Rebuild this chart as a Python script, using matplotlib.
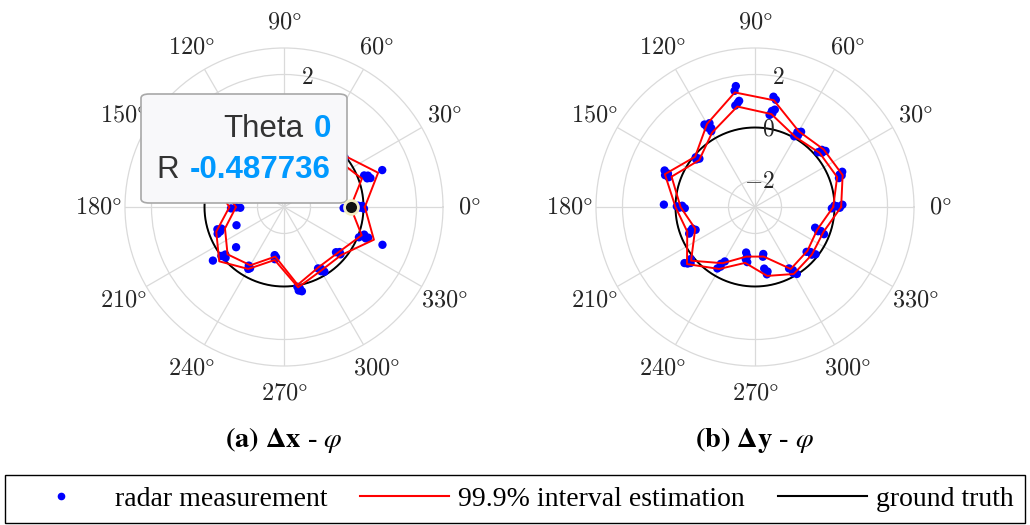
import numpy as np
import matplotlib
matplotlib.use('Agg')
import matplotlib.pyplot as plt
from matplotlib.lines import Line2D
from matplotlib.patches import FancyBboxPatch

plt.rcParams['mathtext.fontset'] = 'cm'

# angles of the measurement groups (deg)
angles = [0, 20, 40, 60, 80, 100, 120, 140, 160, 180, 200, 220, 240, 260, 280, 300, 320, 340]

# (a) delta x - phi : 99.9% interval bounds
dx_lo = [-0.487736, 0.13, -0.3, -0.4, 0.1, -0.3, 0.0, -0.5, -0.4, -1.19, -0.63, -0.22, -0.46, -1.1, -0.02, -0.38, -0.33, 0.12]
dx_hi = [0.05, 0.78, 0.0, -0.1, 0.5, 0.0, 0.35, -0.2, -0.1, -0.94, -0.28, 0.19, -0.3, -0.97, 0.08, -0.22, -0.18, 0.61]
# radar measurements
dx_pt_ang = [1, -0.5, 0.8, -1.2, -1,
             21.5, 19.0, 20.5, 18.5, 20.6,
             40, 41, 39,
             60, 61, 59,
             80, 81, 79,
             100, 101, 99,
             120, 121, 119,
             140, 141, 139,
             160, 161, 159,
             181, 180.5, 181.5,
             199, 201, 198.5, 202, 201,
             219, 221, 218, 217, 220,
             239, 241, 240,
             259, 261, 260,
             279.5, 281, 280, 282,
             299, 301, 300, 302,
             319, 321, 320,
             338, 341, 339, 340, 339]
dx_pt_r = [-0.2, -0.12, -0.05, 0.02, -0.75,
           0.25, 0.32, 0.38, 0.44, 0.96,
           -0.2, -0.1, -0.05,
           -0.35, -0.25, -0.2,
           0.2, 0.3, 0.45,
           -0.1, 0.0, 0.2,
           0.05, 0.15, 0.3,
           -0.45, -0.3, -0.25,
           -0.35, -0.2, -0.15,
           -1.35, -1.2, -1.0,
           -0.5, -0.42, -0.35, -0.3, -1.08,
           -0.15, -0.08, 0.0, 0.36, -0.64,
           -0.42, -0.36, -0.3,
           -1.15, -1.08, -1.0,
           0.05, 0.12, 0.2, 0.25,
           -0.35, -0.28, -0.2, -0.12,
           -0.4, -0.3, -0.22,
           0.05, 0.2, 0.3, 0.38, 0.98]

# (b) delta y - phi
dy_lo = [-0.05, 0.3, 0.18, 0.05, 0.56, 0.85, 0.24, -0.25, 0.35, -0.19, -0.6, 0.15, -0.55, -1.1, -1.1, -0.3, -0.42, -0.5]
dy_hi = [0.25, 0.52, 0.38, 0.3, 1.09, 1.39, 0.62, -0.05, 0.62, 0.0, -0.28, 0.35, -0.3, -0.86, -0.36, -0.08, -0.2, -0.25]
dy_pt_ang = [-1, 1, 0.5, -0.5, 1.5,
             19, 21, 20, 22,
             41, 39, 40.5, 38.5,
             61, 59, 60.5, 58.5,
             79, 80.5, 81, 79.5, 80, 78.5,
             100, 99, 101, 99.5, 98.5,
             120, 119, 121, 118.5, 121.5,
             139, 141, 140,
             161, 159, 160.5, 158,
             181, 179, 180.5, 179.5, 178.5,
             201, 199, 200.5, 202,
             219, 221, 220, 218.5,
             241, 239, 240, 238.5,
             259, 261, 260, 262,
             280, 279, 278.5, 281, 280,
             299, 301, 300, 302,
             319, 321, 320, 322,
             341, 339, 340, 338.5]
dy_pt_r = [-0.1, 0.0, 0.1, 0.2, 0.3,
           0.35, 0.42, 0.48, 0.55,
           0.15, 0.25, 0.32, 0.4,
           0.05, 0.15, 0.25, 0.33,
           1.12, 1.22, 0.52, 0.6, 0.68, 0.75,
           1.45, 1.62, 0.9, 0.98, 1.05,
           0.3, 0.4, 0.5, 0.6, 0.65,
           -0.22, -0.15, -0.08,
           0.45, 0.52, 0.6, 0.68,
           -0.35, -0.25, -0.15, -0.05, 0.44,
           -0.6, -0.5, -0.4, -0.32,
           0.12, 0.22, 0.32, 0.4,
           -0.65, -0.5, -0.4, -0.28,
           -1.25, -1.12, -1.0, -0.9,
           -1.2, -1.1, -0.65, -0.52, -0.42,
           -0.35, -0.22, -0.12, -0.02,
           -0.42, -0.3, -0.2, -0.1,
           -0.6, -0.45, -0.35, -0.2]

ground_truth = 0.0
tip_theta = 0
tip_r = -0.487736

r_ticks = [-2, 0, 2]
r_tick_labels = [r'$-2$', r'$0$', r'$2$']
theta_ticks = list(range(0, 360, 30))

fig = plt.figure(figsize=(10.3, 5.25), dpi=100)
W, H = 1030, 525
ax1 = fig.add_axes([125 / W, (H - 207 - 159) / H, 318 / W, 318 / H], projection='polar')
ax2 = fig.add_axes([596 / W, (H - 207 - 159) / H, 318 / W, 318 / H], projection='polar')


def closed(vals):
    return np.deg2rad(angles + [angles[0]]), vals + [vals[0]]


def draw(ax, lo, hi, pa, pr):
    t = np.linspace(0, 2 * np.pi, 361)
    ax.plot(t, np.full_like(t, ground_truth), color='black', lw=1.4, zorder=2)
    ax.scatter(np.deg2rad(pa), pr, s=36, color='#0000ff', edgecolors='none', zorder=3)
    th, v = closed(lo)
    ax.plot(th, v, color='#ff0000', lw=1.4, zorder=4)
    th, v = closed(hi)
    ax.plot(th, v, color='#ff0000', lw=1.4, zorder=4)
    ax.set_ylim(-3, 3)
    ax.set_yticks(r_ticks)
    ax.set_yticklabels([])
    for v, s in zip(r_ticks, r_tick_labels):
        ax.text(np.deg2rad(80), v, s, ha='center', va='center', fontsize=17,
                color='#262626', zorder=5)
    ax.set_thetagrids(theta_ticks, labels=[rf'${a}\degree$' for a in theta_ticks])
    ax.grid(color='#dadada', lw=0.9)
    ax.spines['polar'].set_color('#dadada')
    ax.spines['polar'].set_linewidth(0.9)
    ax.tick_params(axis='x', pad=8.5, labelsize=17.5, colors='#262626')


draw(ax1, dx_lo, dx_hi, dx_pt_ang, dx_pt_r)
draw(ax2, dy_lo, dy_hi, dy_pt_ang, dy_pt_r)

# data tip on panel (a)
box = FancyBboxPatch((141 / W, 1 - 203 / H), 206 / W, 109 / H,
                     boxstyle='round,pad=0,rounding_size=0.008',
                     transform=fig.transFigure, facecolor='#f8f8fa',
                     edgecolor='#a8a8a8', lw=1.2, zorder=10)
fig.add_artist(box)
fig.text(303 / W, 1 - 129 / H, 'Theta', ha='right', va='center', fontsize=22.5,
         family='Liberation Sans', color='#333333', zorder=11)
fig.text(331 / W, 1 - 129 / H, f'{tip_theta}', ha='right', va='center', fontsize=22.5,
         family='Liberation Sans', fontweight='bold', color='#0099ff', zorder=11)
fig.text(179 / W, 1 - 170 / H, 'R', ha='right', va='center', fontsize=22.5,
         family='Liberation Sans', color='#333333', zorder=11)
fig.text(331 / W, 1 - 170 / H, f'{tip_r}', ha='right', va='center', fontsize=22.5,
         family='Liberation Sans', fontweight='bold', color='#0099ff', zorder=11)
mk = Line2D([np.deg2rad(tip_theta)], [tip_r], transform=ax1.transData, marker='o',
            markersize=10, markerfacecolor='#111111', markeredgecolor='#f3eec4',
            markeredgewidth=2, linestyle='none', zorder=12)
fig.add_artist(mk)

# captions
fig.text(284 / W, 1 - 440 / H, r'$\mathbf{(a)}\ \mathbf{\Delta x}$ - $\varphi$', ha='center', va='center',
         fontsize=20.5, family='Liberation Serif', math_fontfamily='stix')
fig.text(755 / W, 1 - 440 / H, r'$\mathbf{(b)}\ \mathbf{\Delta y}$ - $\varphi$', ha='center', va='center',
         fontsize=20.5, family='Liberation Serif', math_fontfamily='stix')

handles = [Line2D([], [], marker='o', color='#0000ff', markersize=4.5, linestyle='none'),
           Line2D([], [], color='#ff0000', lw=1.5),
           Line2D([], [], color='black', lw=1.5)]
labels = ['radar measurement', '99.9% interval estimation', 'ground truth']
leg = fig.legend(handles, labels, loc='lower left', ncol=3, mode='expand',
                 bbox_to_anchor=(5 / W, 2 / H, 1020 / W, 40 / H), borderaxespad=0,
                 fancybox=False, edgecolor='black', framealpha=1,
                 prop={'family': 'Liberation Serif', 'size': 20},
                 handlelength=3.2, handletextpad=0.35, columnspacing=0.6)
leg.get_frame().set_linewidth(1.0)

fig.savefig('out.png', dpi=100)
